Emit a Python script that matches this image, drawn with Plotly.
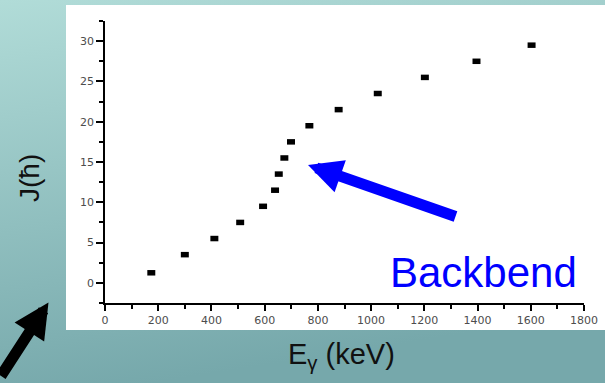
import base64
import plotly.graph_objects as go

# ---- data ----
e_gamma_kev = [174, 300, 411, 508, 594, 639, 653, 674, 699, 768, 878, 1025, 1202, 1396, 1603]
spin_j = [1.25, 3.5, 5.5, 7.5, 9.5, 11.5, 13.5, 15.5, 17.5, 19.5, 21.5, 23.5, 25.5, 27.5, 29.5]
x_ticks = [0, 200, 400, 600, 800, 1000, 1200, 1400, 1600, 1800]
y_ticks = [0, 5, 10, 15, 20, 25, 30]

W, H = 605, 383
ML, MR, MT, MB = 105, 21, 21, 80
PW, PH = W - ML - MR, H - MT - MB


def px(x):
    return (x - ML) / PW


def py(y):
    return (H - MB - y) / PH


svg = (
    f'<svg xmlns="http://www.w3.org/2000/svg" width="{W}" height="{H}" preserveAspectRatio="none">'
    '<defs><linearGradient id="g" x1="0" y1="0" x2="0.25" y2="1">'
    '<stop offset="0" stop-color="#b1dcd8"/><stop offset="1" stop-color="#76a8ab"/>'
    '</linearGradient></defs>'
    f'<rect width="{W}" height="{H}" fill="url(#g)"/></svg>'
)
bg_src = "data:image/svg+xml;base64," + base64.b64encode(svg.encode()).decode()

fig = go.Figure()
fig.add_trace(go.Scatter(
    x=e_gamma_kev, y=spin_j, mode="markers",
    marker=dict(symbol="line-ew", size=5.7, color="black",
                line=dict(width=5.5, color="black")),
    hoverinfo="skip", showlegend=False,
))

tickfont = dict(family="DejaVu Sans", size=11, color="#4d4d4d")
fig.update_xaxes(
    range=[0, 1800], tickvals=x_ticks, ticks="outside", ticklen=6, tickwidth=1.5,
    tickcolor="black", showline=True, linecolor="black", linewidth=1.5,
    showgrid=False, zeroline=False, tickfont=tickfont,
    minor=dict(dtick=100, tick0=0, ticks="outside", ticklen=4, tickwidth=1.5,
               tickcolor="black", showgrid=False),
)
fig.update_yaxes(
    range=[-2.5, 32.5], tickvals=y_ticks, ticks="outside", ticklen=7, tickwidth=1.5,
    tickcolor="black", showline=True, linecolor="black", linewidth=1.5,
    showgrid=False, zeroline=False, tickfont=tickfont,
    minor=dict(dtick=2.5, tick0=0, ticks="outside", ticklen=4, tickwidth=1.5,
               tickcolor="black", showgrid=False),
)

fig.update_layout(
    width=W, height=H,
    margin=dict(l=ML, r=MR, t=MT, b=MB, pad=0, autoexpand=False),
    paper_bgcolor="#93c2c2",
    plot_bgcolor="rgba(0,0,0,0)",
    images=[dict(source=bg_src, xref="paper", yref="paper",
                 x=px(0), y=py(0), sizex=W / PW, sizey=H / PH,
                 xanchor="left", yanchor="top", sizing="stretch", layer="below")],
    shapes=[dict(type="rect", xref="paper", yref="paper",
                 x0=px(66), x1=px(W + 2), y0=py(330), y1=py(5),
                 fillcolor="white", line=dict(width=0), layer="below")],
    font=dict(family="Liberation Sans"),
)

annotations = [
    # blue "Backbend" arrow
    dict(x=px(308), y=py(165), xref="paper", yref="paper", text="",
         showarrow=True, arrowhead=2, arrowwidth=11, arrowsize=0.62,
         arrowcolor="#0000ff", ax=149, ay=52, standoff=0),
    dict(x=px(483), y=py(272), xref="paper", yref="paper", text="Backbend",
         showarrow=False, xanchor="center", yanchor="middle",
         font=dict(family="Liberation Sans", size=42, color="#0000ff")),
    # black arrow at bottom-left
    dict(x=px(48.5), y=py(302.5), xref="paper", yref="paper", text="",
         showarrow=True, arrowhead=2, arrowwidth=11, arrowsize=0.64,
         arrowcolor="black", ax=-75, ay=75, standoff=0),
    # axis titles
    dict(x=px(341), y=py(356), xref="paper", yref="paper",
         text="E<sub>γ</sub> (keV)", showarrow=False,
         xanchor="center", yanchor="middle",
         font=dict(family="Liberation Sans", size=29, color="#111111")),
    dict(x=px(29), y=py(178), xref="paper", yref="paper", text="J(ħ)",
         showarrow=False, textangle=-90, xanchor="center", yanchor="middle",
         font=dict(family="Liberation Sans", size=28, color="#111111")),
]
fig.update_layout(annotations=annotations)

fig.write_html(
    "out.html",
    config={"displayModeBar": False},
    post_script="document.body.style.margin='0';document.body.style.overflow='hidden';",
)
